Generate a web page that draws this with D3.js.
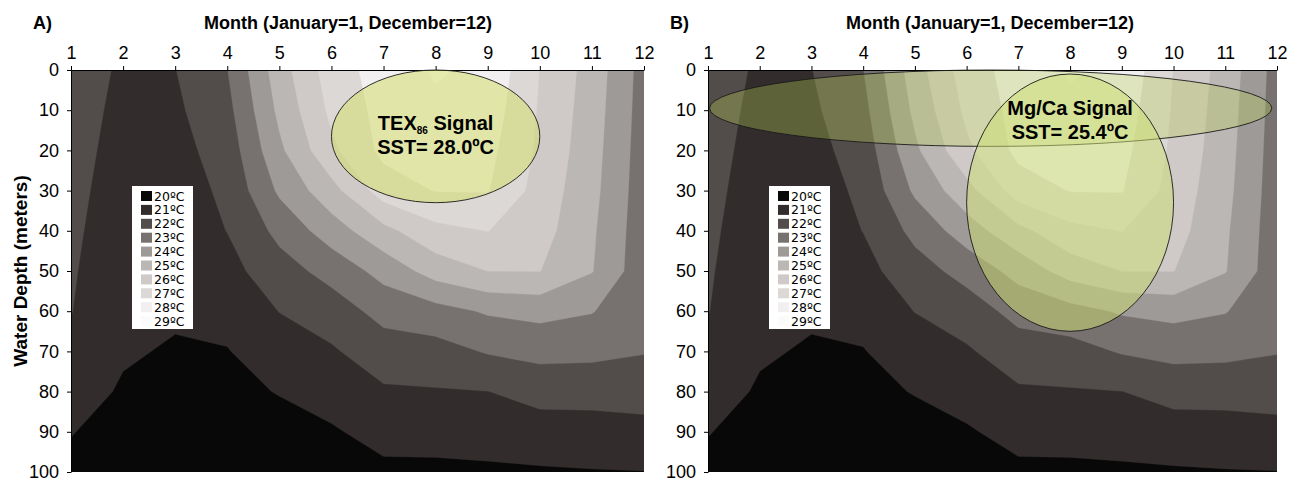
<!DOCTYPE html>
<html>
<head>
<meta charset="utf-8">
<script src="https://cdn.jsdelivr.net/npm/d3@7"></script>
<style>
body { margin: 0; background: #fff; }
svg text { fill: #000; }
</style>
</head>
<body>
<svg id="chart" width="1289" height="482"></svg>
<script>
const months = [1, 2, 3, 4, 5, 6, 7, 8, 9, 10, 11, 12];
const depths = [0, 10, 20, 30, 40, 50, 60, 70, 80, 90, 100];

// water temperature (°C): one row per depth, one column per month
const temp = [
  [22.55, 21.84, 21.98, 22.98, 25.55, 27.50, 28.45, 29.10, 28.80, 26.98, 25.60, 23.60],
  [22.46, 21.73, 21.83, 22.70, 25.23, 27.22, 28.35, 28.81, 28.55, 26.90, 25.50, 23.55],
  [22.38, 21.62, 21.68, 22.42, 24.80, 26.78, 28.25, 28.42, 28.29, 26.80, 25.40, 23.50],
  [22.29, 21.51, 21.53, 22.20, 24.17, 25.64, 27.50, 28.04, 28.05, 26.60, 25.30, 23.45],
  [22.20, 21.40, 21.38, 22.02, 23.27, 24.51, 25.71, 26.72, 27.02, 26.40, 25.15, 23.40],
  [22.11, 21.29, 21.23, 21.67, 22.59, 23.34, 24.35, 25.43, 26.01, 26.02, 25.05, 23.35],
  [22.03, 21.18, 21.08, 21.31, 22.02, 22.51, 23.32, 23.64, 24.11, 24.30, 24.05, 23.25],
  [21.76, 21.07, 20.94, 20.96, 21.52, 21.88, 22.54, 22.62, 23.08, 23.30, 23.25, 23.05],
  [21.28, 20.93, 20.79, 20.78, 21.04, 21.39, 21.87, 21.93, 21.99, 22.35, 22.35, 22.40],
  [21.05, 20.55, 20.65, 20.59, 20.70, 20.90, 21.32, 21.35, 21.41, 21.55, 21.60, 21.70],
  [20.70, 20.35, 20.50, 20.40, 20.40, 20.45, 20.80, 20.80, 20.85, 20.90, 20.95, 20.98]
];

const bandTemps = [20, 21, 22, 23, 24, 25, 26, 27, 28, 29];
const bandColors = ['#080808', '#322d2c', '#524d4a', '#77726f', '#9e9a97',
                    '#bbb7b5', '#cfcac8', '#dbd8d6', '#f1eff0', '#fbfbfb'];

// signal windows: [month from, month to, depth from, depth to]
const texWindows = [[6, 10, 0, 33]];
const mgcaWindows = [[1.03, 11.9, 0, 19], [6, 10, 1, 65]];

const plotTop = 70, plotBottom = 472;
const sans = '"Liberation Sans", Arial, Helvetica, sans-serif';

const svg = d3.select('#chart');

const values = temp.flat();
const contours = d3.contours()
    .size([months.length, depths.length])
    .thresholds(bandTemps.slice(1))(values);

function drawPanel(id, x0, x1, opts) {
  const x = d3.scaleLinear().domain([1, 12]).range([x0, x1]);
  const y = d3.scaleLinear().domain([0, 100]).range([plotTop, plotBottom]);
  const g = svg.append('g').attr('class', 'panel-' + id);

  g.append('clipPath').attr('id', 'clip-' + id)
    .append('rect')
    .attr('x', x(1)).attr('y', y(0))
    .attr('width', x(12) - x(1)).attr('height', y(100) - y(0));

  // grid sample i sits at contour coordinate i + 0.5
  const proj = d3.geoTransform({
    point: function(gx, gy) {
      const m = months[0] + (gx - 0.5) * (months[1] - months[0]);
      const d = depths[0] + (gy - 0.5) * (depths[1] - depths[0]);
      this.stream.point(x(m), y(d));
    }
  });
  const path = d3.geoPath(proj);

  const plot = g.append('g').attr('clip-path', `url(#clip-${id})`);
  plot.append('rect')
    .attr('x', x(1)).attr('y', y(0))
    .attr('width', x(12) - x(1)).attr('height', y(100) - y(0))
    .attr('fill', bandColors[0]);
  plot.selectAll('path.band')
    .data(contours)
    .enter()
    .append('path')
    .attr('class', 'band')
    .attr('d', path)
    .attr('fill', (d, i) => bandColors[i + 1])
    .attr('stroke', (d, i) => bandColors[i + 1])
    .attr('stroke-width', 0.3);

  // axes
  const xAxis = d3.axisTop(x).tickValues(months).tickSize(4).tickSizeOuter(0).tickPadding(7);
  const yAxis = d3.axisLeft(y).tickValues(depths).tickSize(4).tickSizeOuter(0).tickPadding(8);
  const xg = g.append('g').attr('transform', `translate(0,${plotTop})`).call(xAxis);
  const yg = g.append('g').attr('transform', `translate(${x0},0)`).call(yAxis);
  [xg, yg].forEach(a => {
    a.selectAll('text').attr('font-size', 18).style('font-family', sans);
    a.select('.domain').attr('stroke', '#000');
    a.selectAll('.tick line').attr('stroke', '#000');
  });

  // titles
  g.append('text').attr('x', x0 - 38).attr('y', 29)
    .style('font-family', sans)
    .attr('font-size', 18).attr('font-weight', 'bold').text(opts.label);
  g.append('text').attr('x', opts.titleX).attr('y', 29)
    .style('font-family', sans)
    .attr('text-anchor', 'middle').attr('font-size', 18).attr('font-weight', 'bold')
    .text('Month (January=1, December=12)');
  if (opts.yTitle) {
    g.append('text')
      .attr('transform', `translate(27,${(plotTop + plotBottom) / 2}) rotate(-90)`)
      .style('font-family', sans)
      .attr('text-anchor', 'middle').attr('font-size', 19).attr('font-weight', 'bold')
      .text('Water Depth (meters)');
  }

  // legend
  const lg = g.append('g').attr('transform', `translate(${x0 + 61},186)`);
  lg.append('rect').attr('width', 61).attr('height', 143).attr('fill', '#fff');
  const row = d3.scaleBand().domain(bandTemps).range([4, 143]);
  bandTemps.forEach((t, i) => {
    lg.append('rect').attr('x', 9).attr('y', row(t) + 1)
      .attr('width', 11).attr('height', 10).attr('fill', bandColors[i]);
    lg.append('text').attr('x', 22).attr('y', row(t) + 10.5)
      .style('font-family', '"DejaVu Sans", Verdana, sans-serif')
      .attr('font-size', 12.5)
      .text(t + 'ºC');
  });

  // signal ellipses
  opts.windows.forEach((w, i) => {
    g.append('ellipse')
      .attr('cx', (x(w[0]) + x(w[1])) / 2)
      .attr('cy', (y(w[2]) + y(w[3])) / 2)
      .attr('rx', (x(w[1]) - x(w[0])) / 2)
      .attr('ry', (y(w[3]) - y(w[2])) / 2)
      .attr('fill', opts.fills[i])
      .attr('fill-opacity', opts.opacities[i])
      .attr('stroke', '#1a1a1a')
      .attr('stroke-width', 0.9);
  });

  const t1 = g.append('text').attr('x', x(8)).attr('y', opts.textY[0])
    .style('font-family', sans)
    .attr('text-anchor', 'middle').attr('font-size', 20).attr('font-weight', 'bold');
  opts.line1(t1);
  g.append('text').attr('x', x(8)).attr('y', opts.textY[1])
    .style('font-family', sans)
    .attr('text-anchor', 'middle').attr('font-size', 20).attr('font-weight', 'bold')
    .text(opts.line2);
}

drawPanel('a', 71, 644, {
  label: 'A)', yTitle: true, titleX: 348,
  windows: texWindows,
  fills: ['rgb(212,223,109)'], opacities: [0.55],
  textY: [130, 154],
  line1: t => {
    t.append('tspan').text('TEX');
    t.append('tspan').attr('font-size', 10).attr('dy', 4).text('86');
    t.append('tspan').attr('dy', -4).text(' Signal');
  },
  line2: 'SST= 28.0ºC'
});

drawPanel('b', 708, 1277, {
  label: 'B)', yTitle: false, titleX: 990,
  windows: mgcaWindows,
  fills: ['rgb(186,205,85)', 'rgb(206,223,115)'], opacities: [0.33, 0.52],
  textY: [115, 139],
  line1: t => t.text('Mg/Ca Signal'),
  line2: 'SST= 25.4ºC'
});
</script>
</body>
</html>
